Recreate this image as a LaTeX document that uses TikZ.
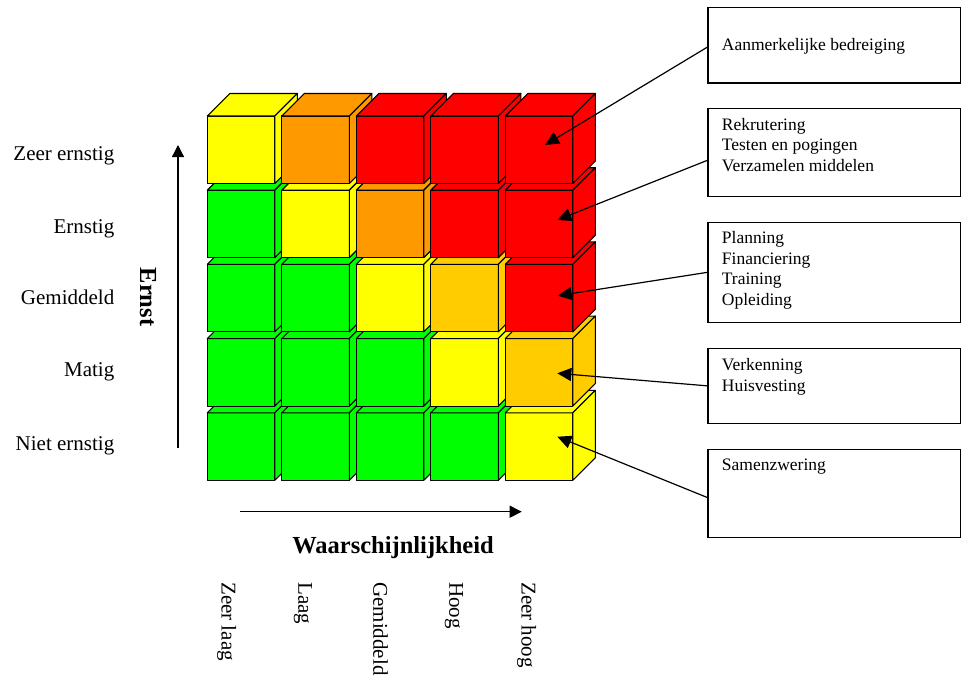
\documentclass[tikz,border=0pt]{standalone}
\usepackage{fontspec}
\setmainfont{Liberation Serif}
\usetikzlibrary{arrows.meta,calc}
\definecolor{cgreen}{HTML}{00FF00}
\definecolor{cyellow}{HTML}{FFFF00}
\definecolor{corange}{HTML}{FF9900}
\definecolor{cgold}{HTML}{FFCC00}
\definecolor{cred}{HTML}{FF0000}
\begin{document}
\begin{tikzpicture}[x=1pt,y=-1pt,
  cubeline/.style={draw=black, line width=1.1pt, line join=round},
  infobox/.style={draw=black, line width=1.3pt, rectangle, inner sep=0pt, anchor=north west, minimum width=252.4pt},
  boxtext/.style={anchor=base west, inner sep=0pt, font=\fontsize{17.5}{20.5}\selectfont},
  conn/.style={draw=black, line width=1.2pt, -{Triangle[length=14pt,width=13pt]}},
  axis/.style={draw=black, line width=1.3pt, -{Triangle[length=12pt,width=12pt]}},
  sevlabel/.style={anchor=base east, inner sep=0pt, font=\fontsize{21}{24}\selectfont},
  problabel/.style={anchor=base west, inner sep=0pt, rotate=-90, font=\fontsize{21}{24}\selectfont},
  axistitle/.style={inner sep=0pt, font=\fontsize{24.5}{28}\selectfont\bfseries}
]
\useasboundingbox (0,0) rectangle (961,675);

% cubes: rows drawn bottom to top, columns left to right
\foreach \r/\cols in {4/{cgreen,cgreen,cgreen,cgreen,cyellow},
                      3/{cgreen,cgreen,cgreen,cyellow,cgold},
                      2/{cgreen,cgreen,cyellow,cgold,cred},
                      1/{cgreen,cyellow,corange,cred,cred},
                      0/{cyellow,corange,cred,cred,cred}}{
  \foreach \col [count=\i from 0] in \cols {
    \pgfmathsetmacro\X{207.3+74.5*\i}
    \pgfmathsetmacro\Y{116+74.2*\r}
    \draw[cubeline, fill=\col] (\X,\Y) rectangle ++(67.5,67.5);
    \draw[cubeline, fill=\col] (\X,\Y) -- ++(22.5,-22.5) -- ++(67.5,0) -- ++(-22.5,22.5) -- cycle;
    \draw[cubeline, fill=\col] (\X+67.5,\Y) -- ++(22.5,-22.5) -- ++(0,67.5) -- ++(-22.5,22.5) -- cycle;
  }
}

% info boxes
\node[infobox, minimum height=75.6pt] (b1) at (707.3,6.7) {};
\node[infobox, minimum height=88pt]   (b2) at (707.3,107.7) {};
\node[infobox, minimum height=100pt]  (b3) at (707.3,221.7) {};
\node[infobox, minimum height=75pt]   (b4) at (707.3,347.7) {};
\node[infobox, minimum height=87.7pt] (b5) at (707.3,449) {};

\node[boxtext] (t1txt) at ($(b1.north west)+(14.4,44)$) {Aanmerkelijke bedreiging};
\node[boxtext] (t2txt) at ($(b2.north west)+(14.4,22.3)$) {\begin{tabular}[t]{@{}l@{}}Rekrutering\\Testen en pogingen\\Verzamelen middelen\end{tabular}};
\node[boxtext] (t3txt) at ($(b3.north west)+(14.4,22)$) {\begin{tabular}[t]{@{}l@{}}Planning\\Financiering\\Training\\Opleiding\end{tabular}};
\node[boxtext] (t4txt) at ($(b4.north west)+(14.4,23)$) {\begin{tabular}[t]{@{}l@{}}Verkenning\\Huisvesting\end{tabular}};
\node[boxtext] (t5txt) at ($(b5.north west)+(14.4,21)$) {Samenzwering};

% connector tips
\coordinate (tip1) at (545,145);
\coordinate (tip2) at (557.3,220);
\coordinate (tip3) at (557.7,295.7);
\coordinate (tip4) at (557.3,373.3);
\coordinate (tip5) at (557.3,436.7);

\draw[conn] ($(b1.west)+(0,2)$) -- (tip1);
\draw[conn] ($(b2.west)+(0,8)$) -- (tip2);
\draw[conn] (b3.west) -- (tip3);
\draw[conn] (b4.west) -- (tip4);
\draw[conn] ($(b5.west)+(0,4)$) -- (tip5);

% axes
\coordinate (ya0) at (178,448);
\coordinate (ya1) at (178,145);
\draw[axis] (ya0) -- (ya1);
\coordinate (xa0) at (240,511.7);
\coordinate (xa1) at (521.7,511.7);
\draw[axis] (xa0) -- (xa1);

% severity labels
\node[sevlabel] (s1) at (114.5,160) {Zeer ernstig};
\node[sevlabel] (s2) at (114.5,233.5) {Ernstig};
\node[sevlabel] (s3) at (114.5,304) {Gemiddeld};
\node[sevlabel] (s4) at (114.5,376) {Matig};
\node[sevlabel] (s5) at (114.5,450) {Niet ernstig};

\node[axistitle, rotate=-90] (ernst) at (148,297) {Ernst};
\node[axistitle, anchor=base] (waar) at (393,553) {Waarschijnlijkheid};

% probability labels
\node[problabel] (p1) at (221.7,582) {Zeer laag};
\node[problabel] (p2) at (298.3,582) {Laag};
\node[problabel] (p3) at (373.3,582) {Gemiddeld};
\node[problabel] (p4) at (449.3,582) {Hoog};
\node[problabel] (p5) at (521.7,582) {Zeer hoog};
\end{tikzpicture}
\end{document}
